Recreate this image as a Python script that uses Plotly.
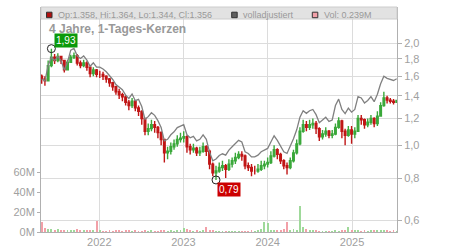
import pandas as pd
import plotly.graph_objects as go

# ---- data (~2-week sampling) ----
start_date = "2021-04-26"
n_points = 111
close = [1.57, 1.55, 1.72, 1.82, 1.78, 1.83, 1.78, 1.67, 1.76, 1.82,
         1.84, 1.75, 1.72, 1.75, 1.70, 1.63, 1.67, 1.62, 1.62, 1.60,
         1.57, 1.53, 1.49, 1.44, 1.41, 1.39, 1.34, 1.31, 1.35, 1.29,
         1.26, 1.20, 1.10, 1.12, 1.15, 1.13, 1.09, 1.04, 0.95, 0.96,
         0.99, 1.01, 1.04, 1.05, 1.06, 0.99, 0.97, 0.98, 0.95, 0.96,
         0.99, 0.96, 0.88, 0.83, 0.84, 0.86, 0.87, 0.85, 0.88, 0.90,
         0.92, 0.94, 0.93, 0.87, 0.86, 0.84, 0.84, 0.85, 0.87, 0.88,
         0.89, 0.93, 0.97, 0.94, 0.90, 0.87, 0.86, 0.90, 0.95, 1.01,
         1.10, 1.15, 1.13, 1.15, 1.16, 1.12, 1.06, 1.08, 1.10, 1.07,
         1.08, 1.13, 1.18, 1.10, 1.07, 1.11, 1.08, 1.10, 1.20, 1.19,
         1.15, 1.17, 1.20, 1.16, 1.22, 1.31, 1.38, 1.36, 1.35, 1.34,
         1.356]
high = [1.62, 1.60, 1.78, 1.93, 1.86, 1.87, 1.84, 1.79, 1.79, 1.85,
        1.88, 1.86, 1.78, 1.79, 1.77, 1.71, 1.70, 1.68, 1.66, 1.65,
        1.61, 1.58, 1.54, 1.50, 1.47, 1.43, 1.41, 1.36, 1.38, 1.36,
        1.31, 1.27, 1.20, 1.16, 1.19, 1.18, 1.14, 1.10, 1.04, 0.99,
        1.02, 1.04, 1.07, 1.09, 1.10, 1.07, 1.01, 1.01, 0.99, 0.99,
        1.02, 1.00, 0.97, 0.89, 0.87, 0.89, 0.90, 0.88, 0.91, 0.92,
        0.95, 0.96, 0.96, 0.94, 0.89, 0.88, 0.87, 0.88, 0.90, 0.90,
        0.92, 0.96, 1.00, 0.98, 0.95, 0.91, 0.89, 0.92, 0.97, 1.04,
        1.13, 1.19, 1.18, 1.19, 1.20, 1.18, 1.13, 1.11, 1.13, 1.11,
        1.11, 1.16, 1.21, 1.19, 1.12, 1.14, 1.14, 1.13, 1.23, 1.23,
        1.20, 1.20, 1.23, 1.21, 1.26, 1.34, 1.44, 1.40, 1.38, 1.37,
        1.364]
low = [1.52, 1.50, 1.55, 1.70, 1.74, 1.76, 1.74, 1.64, 1.68, 1.75,
       1.80, 1.72, 1.69, 1.70, 1.66, 1.59, 1.60, 1.59, 1.58, 1.56,
       1.53, 1.49, 1.45, 1.41, 1.37, 1.35, 1.31, 1.27, 1.29, 1.26,
       1.22, 1.15, 1.07, 1.07, 1.10, 1.09, 1.05, 1.00, 0.89, 0.91,
       0.94, 0.97, 0.99, 1.02, 1.02, 0.95, 0.94, 0.95, 0.93, 0.93,
       0.95, 0.93, 0.85, 0.81, 0.79, 0.83, 0.84, 0.80, 0.84, 0.86,
       0.88, 0.91, 0.90, 0.85, 0.84, 0.81, 0.82, 0.83, 0.84, 0.85,
       0.86, 0.88, 0.92, 0.91, 0.88, 0.85, 0.82, 0.85, 0.89, 0.94,
       1.00, 1.09, 1.10, 1.11, 1.12, 1.08, 1.03, 1.04, 1.06, 1.05,
       1.05, 1.07, 1.12, 1.05, 1.00, 1.06, 1.01, 1.05, 1.10, 1.15,
       1.12, 1.13, 1.15, 1.13, 1.14, 1.22, 1.30, 1.33, 1.33, 1.32,
       1.344]
first_open = 1.60
open_ = [first_open] + close[:-1]

# dividend adjustment factors (step values)
adj_factor = [1.00] * 9 + [1.05] * 21 + [1.085] * 27 + [1.10] * 34 + [1.16] * 20

volume_m = [10, 4, 3, 3, 2, 3, 2, 2.5, 1.5, 1.5,
            2, 3, 2, 1.5, 2, 2.5, 2, 11, 1.5, 1,
            1, 1.5, 1, 2, 1.5, 1, 1.5, 2, 1, 1.5,
            1, 0.8, 1.5, 1, 1.5, 1, 1, 1.5, 2, 1,
            1.5, 1, 1.5, 1.5, 4, 3, 1.5, 1, 1.5, 1,
            1.5, 5, 1.5, 1.5, 1, 0.8, 1, 0.5, 0.8, 0.5,
            0.8, 0.5, 0.8, 1, 1, 1.5, 1, 1.5, 3, 10.5,
            9.5, 2, 1.5, 2, 2.5, 3, 10.5, 2, 3, 2,
            26, 5.5, 3, 2, 1.5, 1.5, 1, 1, 0.8, 1,
            1, 1.5, 1, 1.5, 2, 5, 1.5, 2, 1.5, 1,
            1.5, 1, 1.5, 1.5, 1.5, 1.5, 2, 1.5, 1, 1.5,
            0.239]

price_ticks = [0.6, 0.8, 1.0, 1.2, 1.4, 1.6, 1.8, 2.0]
price_tick_text = ["0,6", "0,8", "1,0", "1,2", "1,4", "1,6", "1,8", "2,0"]
vol_ticks = [0, 20e6, 40e6, 60e6]
vol_tick_text = ["0M", "20M", "40M", "60M"]
year_ticks = ["2022-01-01", "2023-01-01", "2024-01-01", "2025-01-01"]
year_text = ["2022", "2023", "2024", "2025"]
max_idx, max_val, max_label = 3, 1.93, "1,93"
min_idx, min_val, min_label = 54, 0.79, "0,79"

legend_text = "Op:1.358, Hi:1.364, Lo:1.344, Cl:1.356"

# ---- figure ----
dates = pd.date_range(start_date, periods=n_points, freq="14D")
adj_close = [c * f for c, f in zip(close, adj_factor)]
volume = [v * 1e6 for v in volume_m]
vol_colors = ["#9fd99a" if c >= o else "#f2a0a8" for c, o in zip(close, open_)]

GREEN = "#3aa83a"
RED = "#c01515"
FONT = "Liberation Sans, Arial, sans-serif"
GRID = "#dcdcdc"
AX = "#b0b0b0"
TXT = "#a0a0a0"

fig = go.Figure()
fig.add_trace(go.Bar(x=dates, y=volume, marker_color=vol_colors, marker_line_width=0,
                     width=4 * 86400000, yaxis="y", showlegend=False))
fig.add_trace(go.Scatter(x=dates, y=adj_close, mode="lines",
                         line=dict(color="#808080", width=1.3), yaxis="y2", showlegend=False))
fig.add_trace(go.Candlestick(x=dates, open=open_, high=high, low=low, close=close,
                             increasing=dict(line=dict(color=GREEN, width=1.4), fillcolor=GREEN),
                             decreasing=dict(line=dict(color=RED, width=1.4), fillcolor=RED),
                             whiskerwidth=0, yaxis="y2", showlegend=False))
fig.add_trace(go.Scatter(x=[dates[max_idx], dates[min_idx]], y=[max_val, min_val], mode="markers",
                         marker=dict(symbol="circle-open", size=8, color="#222", line=dict(width=1)),
                         yaxis="y2", showlegend=False))

W, H = 450, 250
L, R, T, B = 41, 397, 7, 232


def px(x):
    return (x - L) / (R - L)


def py(y):
    return (B - y) / (B - T)


fig.update_layout(
    width=W, height=H,
    margin=dict(l=L, r=W - R, t=T, b=H - B, pad=0, autoexpand=False),
    paper_bgcolor="white", plot_bgcolor="white",
    font=dict(family=FONT, color=TXT, size=11),
    showlegend=False,
    bargap=0,
    xaxis=dict(type="date", range=["2021-04-23", "2025-07-15"], tickvals=year_ticks, ticktext=year_text,
               showgrid=True, gridcolor=GRID, gridwidth=1, showline=True, linecolor=AX, linewidth=1,
               ticks="", rangeslider=dict(visible=False), zeroline=False, automargin=False,
               tickfont=dict(size=11, color=TXT)),
    yaxis=dict(side="left", range=[0, 225e6], tickvals=vol_ticks, ticktext=vol_tick_text,
               showgrid=False, zeroline=False, showline=True, linecolor=AX, linewidth=1,
               ticks="outside", ticklen=3, tickcolor=AX, automargin=False,
               tickfont=dict(size=11, color=TXT)),
    yaxis2=dict(side="right", overlaying="y", type="log", range=[-0.2561, 0.4086],
                tickvals=price_ticks, ticktext=price_tick_text, showgrid=True, gridcolor=GRID,
                zeroline=False, showline=True, linecolor=AX, linewidth=1, automargin=False,
                ticks="outside", ticklen=4, tickcolor=AX, tickfont=dict(size=11, color=TXT)),
)

shapes = [
    dict(type="rect", xref="paper", yref="paper", x0=0, x1=1, y0=py(19), y1=py(7),
         fillcolor="#e2e2e2", line=dict(color="#cccccc", width=1), layer="above"),
    dict(type="rect", xref="paper", yref="paper", x0=px(46.5), x1=px(52), y0=py(17.7), y1=py(12.2),
         fillcolor="#b01010", line=dict(color="#333", width=1), layer="above"),
    dict(type="rect", xref="paper", yref="paper", x0=px(231.7), x1=px(237.2), y0=py(17.7), y1=py(12.2),
         fillcolor="#606060", line=dict(color="#333", width=1), layer="above"),
    dict(type="rect", xref="paper", yref="paper", x0=px(312.3), x1=px(317.8), y0=py(17.7), y1=py(12.2),
         fillcolor="#f2a0a8", line=dict(color="#333", width=1), layer="above"),
]
fig.update_layout(shapes=shapes)

ann = [
    dict(text=legend_text, x=px(55.5), y=py(14.8), xanchor="left", yanchor="middle",
         font=dict(size=9, color="#999")),
    dict(text="volladjustiert", x=px(241), y=py(14.8), xanchor="left", yanchor="middle",
         font=dict(size=9, color="#999")),
    dict(text=f"Vol: {volume_m[-1]:.3f}M", x=px(321.5), y=py(14.8), xanchor="left", yanchor="middle",
         font=dict(size=9, color="#999")),
    dict(text="<b>4 Jahre, 1-Tages-Kerzen</b>", x=px(46.5), y=py(29), xanchor="left", yanchor="middle",
         font=dict(size=12, color="#999")),
    dict(text=max_label, x=px(66), y=py(40.5), xanchor="center", yanchor="middle",
         font=dict(size=10, color="white"), bgcolor="#0b9a0b", borderpad=1),
    dict(text=min_label, x=px(229.2), y=py(189.5), xanchor="center", yanchor="middle",
         font=dict(size=10, color="white"), bgcolor="#cc0000", borderpad=1),
]
for a in ann:
    a.update(xref="paper", yref="paper", showarrow=False)
fig.update_layout(annotations=ann)

fig.write_html("out.html")
